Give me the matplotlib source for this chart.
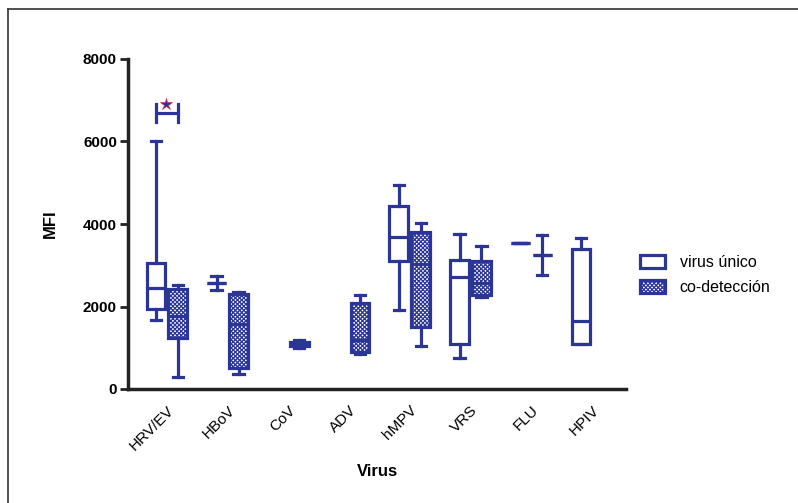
import numpy as np
import matplotlib
matplotlib.use("Agg")
import matplotlib.pyplot as plt
from matplotlib.patches import Patch
from matplotlib.lines import Line2D

plt.rcParams['font.family'] = ['Liberation Sans', 'DejaVu Sans']
plt.rcParams['hatch.linewidth'] = 0.9

# categories and box statistics (whisker low, Q1, median, Q3, whisker high)
categories = ['HRV/EV', 'HBoV', 'CoV', 'ADV', 'hMPV', 'VRS', 'FLU', 'HPIV']
nan = np.nan
unico_lo = [1670, 2400, nan, nan, 1910, 740, 3530, 1090]
unico_q1 = [1930, 2580, nan, nan, 3110, 1100, 3530, 1100]
unico_med = [2440, 2580, nan, nan, 3690, 2720, 3530, 1660]
unico_q3 = [3060, 2580, nan, nan, 4440, 3130, 3530, 3390]
unico_hi = [6000, 2750, nan, nan, 4950, 3760, 3530, 3670]

codet_lo = [280, 360, 1000, 840, 1050, 2230, 2760, nan]
codet_q1 = [1240, 520, 1040, 900, 1510, 2280, 3240, nan]
codet_med = [1770, 1570, 1090, 1190, 3020, 2580, 3240, nan]
codet_q3 = [2420, 2300, 1150, 2080, 3810, 3100, 3240, nan]
codet_hi = [2520, 2360, 1180, 2280, 4020, 3470, 3730, nan]

# significance bracket (HRV/EV)
sig_y = 6700

blue = '#2b3595'
axis_col = '#222222'
hatch = 'xxxxxxxx'

fig = plt.figure(figsize=(7.98, 5.03), dpi=100)
ax = fig.add_axes([128/798, 1-389/503, (626-128)/798, (389-59)/503])

def make_stats(lo, q1, med, q3, hi):
    stats, pos = [], []
    for i in range(len(lo)):
        if np.isnan(med[i]):
            continue
        stats.append(dict(whislo=lo[i], q1=q1[i], med=med[i], q3=q3[i],
                          whishi=hi[i], fliers=[]))
        pos.append(i)
    return stats, pos

off = 0.18
w = 0.31
lw = 2.3
common = dict(widths=w, patch_artist=True, showfliers=False, capwidths=w*0.55,
              whiskerprops=dict(color=blue, lw=lw),
              capprops=dict(color=blue, lw=lw),
              medianprops=dict(color=blue, lw=lw))

s1, p1 = make_stats(unico_lo, unico_q1, unico_med, unico_q3, unico_hi)
b1 = ax.bxp(s1, positions=np.array(p1) - off,
            boxprops=dict(facecolor='white', edgecolor=blue, lw=lw), **common)

s2, p2 = make_stats(codet_lo, codet_q1, codet_med, codet_q3, codet_hi)
b2 = ax.bxp(s2, positions=np.array(p2) + off,
            boxprops=dict(facecolor='white', edgecolor=blue, lw=lw, hatch=hatch), **common)

# bracket with asterisk
x0, x1 = -off, off
ax.plot([x0, x1], [sig_y, sig_y], color=blue, lw=lw, solid_capstyle='butt', clip_on=False)
for xx in (x0, x1):
    ax.plot([xx, xx], [sig_y - 220, sig_y + 220], color=blue, lw=lw, clip_on=False)
ax.plot([-0.02], [sig_y + 200], marker='*', markersize=9, color=blue,
        markeredgecolor='#d03050', markeredgewidth=0.5, clip_on=False)

ax.set_xlim(-0.64, 7.56)
ax.set_ylim(0, 8000)
ax.set_yticks([0, 2000, 4000, 6000, 8000])
ax.set_xticks(range(len(categories)))
ax.set_xticklabels(categories, rotation=45, ha='right', rotation_mode='anchor',
                   fontsize=11)
for lab in ax.get_yticklabels():
    lab.set_fontweight('bold')
    lab.set_fontsize(11)
ax.tick_params(axis='x', length=0, pad=10)
ax.tick_params(axis='y', length=6, width=2, color=axis_col, pad=2)

for sp in ('top', 'right'):
    ax.spines[sp].set_visible(False)
for sp in ('left', 'bottom'):
    ax.spines[sp].set_linewidth(2.5)
    ax.spines[sp].set_color(axis_col)

ax.set_ylabel('MFI', fontsize=12, fontweight='bold', labelpad=18)
ax.set_xlabel('Virus', fontsize=12, fontweight='bold', labelpad=8)

handles = [Patch(facecolor='white', edgecolor=blue, lw=lw, label='virus único'),
           Patch(facecolor='white', edgecolor=blue, lw=lw, hatch=hatch, label='co-detección')]
fig.legend(handles=handles, loc='center left', bbox_to_anchor=(626/798, 1-275/503),
           frameon=False, fontsize=11.5, handlelength=1.55, handleheight=0.9,
           labelspacing=0.6, handletextpad=0.9)

# page frame (left and top edges)
fig.add_artist(Line2D([8/798, 8/798], [0, 1-9/503], color='#333333', lw=1.2))
fig.add_artist(Line2D([8/798, 1], [1-9/503, 1-9/503], color='#333333', lw=1.2))

fig.savefig('out.png', dpi=100)
